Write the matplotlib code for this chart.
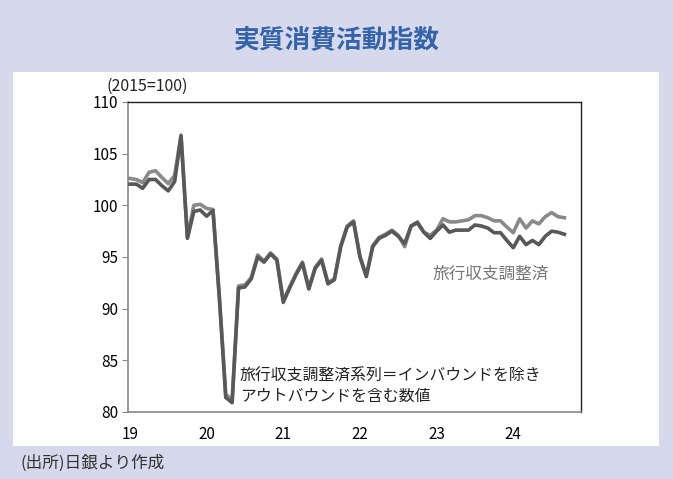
import matplotlib.pyplot as plt
from matplotlib.patches import Rectangle
import numpy as np

plt.rcParams['font.family'] = ['Liberation Sans Narrow', 'Noto Sans CJK JP', 'DejaVu Sans']
plt.rcParams['font.size'] = 9

# monthly data, 2019-01 .. 2024-09
adjusted = [102.6, 102.5, 102.2, 103.2, 103.35, 102.7, 102.1, 102.9, 106.8, 96.9, 100.0, 100.1,
            99.7, 99.6, 91.2, 81.7, 81.2, 92.2, 92.3, 93.0, 95.2, 94.6, 95.4, 94.8,
            90.8, 92.1, 93.4, 94.5, 92.0, 94.0, 94.8, 92.5, 92.9, 96.1, 98.0, 98.5,
            95.1, 93.2, 96.1, 96.9, 97.2, 97.6, 97.1, 96.0, 98.0, 98.4, 97.4, 97.1,
            97.6, 98.7, 98.4, 98.4, 98.5, 98.6, 99.0, 99.0, 98.8, 98.5, 98.5, 97.9,
            97.35, 98.7, 97.8, 98.5, 98.2, 98.9, 99.3, 98.9, 98.8]
outbound = [102.05, 102.05, 101.65, 102.5, 102.5, 101.9, 101.4, 102.3, 106.7, 96.8, 99.4, 99.55,
            98.95, 99.5, 91.0, 81.4, 80.9, 92.0, 92.1, 92.9, 95.0, 94.5, 95.3, 94.7,
            90.6, 92.0, 93.3, 94.4, 91.9, 93.9, 94.7, 92.4, 92.8, 96.0, 97.9, 98.4,
            95.0, 93.1, 96.0, 96.8, 97.1, 97.5, 97.0, 96.3, 98.0, 98.3, 97.4, 96.8,
            97.5, 98.1, 97.4, 97.6, 97.6, 97.6, 98.1, 98.0, 97.8, 97.35, 97.35, 96.6,
            95.9, 97.0, 96.2, 96.6, 96.2, 97.0, 97.5, 97.4, 97.2]
year_labels = ['19', '20', '21', '22', '23', '24']

months = np.arange(len(adjusted))
jp = ['Noto Sans CJK JP', 'DejaVu Sans']

fig = plt.figure(figsize=(6.73, 4.79), dpi=100)
fig.patch.set_facecolor('#d6d8eb')
fig.patches.append(Rectangle((13 / 673, 1 - 446 / 479), 646 / 673, 374 / 479,
                             transform=fig.transFigure, facecolor='white',
                             edgecolor='none', zorder=-5))

fig.text(0.5, 1 - 40 / 479, '実質消費活動指数', ha='center', va='center',
         fontsize=18.5, fontweight='bold', color='#3563a9', family=jp)

ax = fig.add_axes([128 / 673, 1 - 412 / 479, 453 / 673, 310 / 479])
ax.plot(months, adjusted, color='#8a8a8a', lw=2.6, zorder=2)
ax.plot(months, outbound, color='#585858', lw=2.6, zorder=3)

ax.set_xlim(-0.3, 70.6)
ax.set_ylim(80, 110)
ax.set_yticks(np.arange(80, 111, 5))
ax.set_xticks(np.arange(0, 61, 12))
ax.set_xticklabels(year_labels)
ax.tick_params(axis='y', length=4, width=0.8, color='#888888', labelsize=11, pad=3)
ax.tick_params(axis='x', length=0, labelsize=11, pad=10)

for side in ['left', 'bottom']:
    ax.spines[side].set_color('#888888')
    ax.spines[side].set_linewidth(1.2)
for side in ['top', 'right']:
    ax.spines[side].set_color('#222222')
    ax.spines[side].set_linewidth(1.0)

fig.text(107 / 673, 1 - 86 / 479, '(2015=100)', ha='left', va='center', fontsize=11.5,
         color='#222222')

ax.text(47.4, 93.3, '旅行収支調整済', fontsize=12, color='#777777', ha='left', va='center',
        family=jp)
ax.text(17.2, 82.5, '旅行収支調整済系列＝インバウンドを除き\nアウトバウンドを含む数値',
        fontsize=11.4, color='#222222', ha='left', va='center', linespacing=1.25,
        family=jp)

fig.text(20 / 673, 1 - 463 / 479, '(出所)日銀より作成', ha='left', va='center',
         fontsize=12, color='#333333', family=jp)

plt.savefig('out.png', dpi=100, facecolor=fig.get_facecolor())
plt.close('all')
